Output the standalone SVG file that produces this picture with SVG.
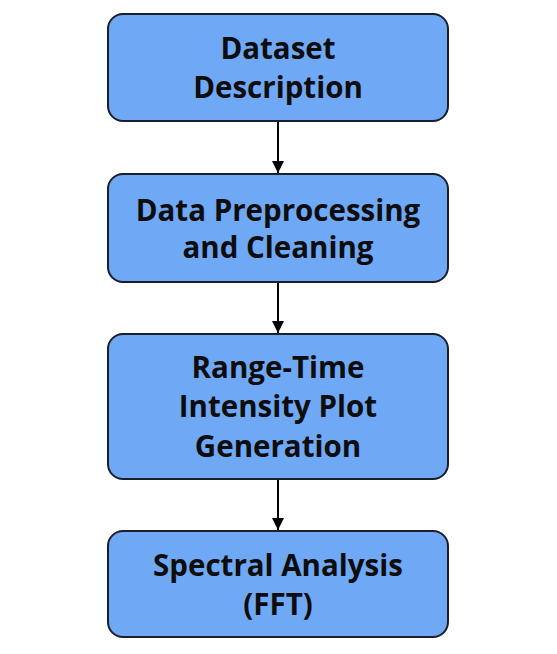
<svg xmlns="http://www.w3.org/2000/svg" width="557" height="654" viewBox="0 0 557 654">
<defs>
<style>
.box{fill:#6fa8f5;stroke:#1b1e2b;stroke-width:2}
.t{font-family:"Open Sans","Liberation Sans",sans-serif;font-weight:700;font-size:29.5px;fill:#0d0d0d;text-anchor:middle}
.c{stroke:#000;stroke-width:2;fill:none}
</style>
<marker id="ah" viewBox="0 0 10 10" refX="10" refY="5" markerWidth="7" markerHeight="6" markerUnits="strokeWidth" orient="auto">
<path d="M0,0 L10,5 L0,10 z" fill="#000"/>
</marker>
</defs>
<rect width="557" height="654" fill="#fff"/>
<g id="connectors">
<line class="c" x1="278" y1="122" x2="278" y2="173" marker-end="url(#ah)"/>
<line class="c" x1="278" y1="283" x2="278" y2="333" marker-end="url(#ah)"/>
<line class="c" x1="278" y1="480" x2="278" y2="530" marker-end="url(#ah)"/>
</g>
<g id="node1">
<rect class="box" x="108" y="14" width="340" height="107" rx="15"/>
<text class="t" x="278" y="58.5">Dataset</text>
<text class="t" x="278" y="98">Description</text>
</g>
<g id="node2">
<rect class="box" x="108" y="174" width="340" height="108" rx="15"/>
<text class="t" x="278" y="220.5">Data Preprocessing</text>
<text class="t" x="278" y="258">and Cleaning</text>
</g>
<g id="node3">
<rect class="box" x="108" y="334" width="340" height="145" rx="15"/>
<text class="t" x="278" y="377.5">Range-Time</text>
<text class="t" x="278" y="417">Intensity Plot</text>
<text class="t" x="278" y="456.5">Generation</text>
</g>
<g id="node4">
<rect class="box" x="108" y="531" width="340" height="106" rx="15"/>
<text class="t" x="278" y="575.5">Spectral Analysis</text>
<text class="t" x="278" y="614.5">(FFT)</text>
</g>
</svg>
